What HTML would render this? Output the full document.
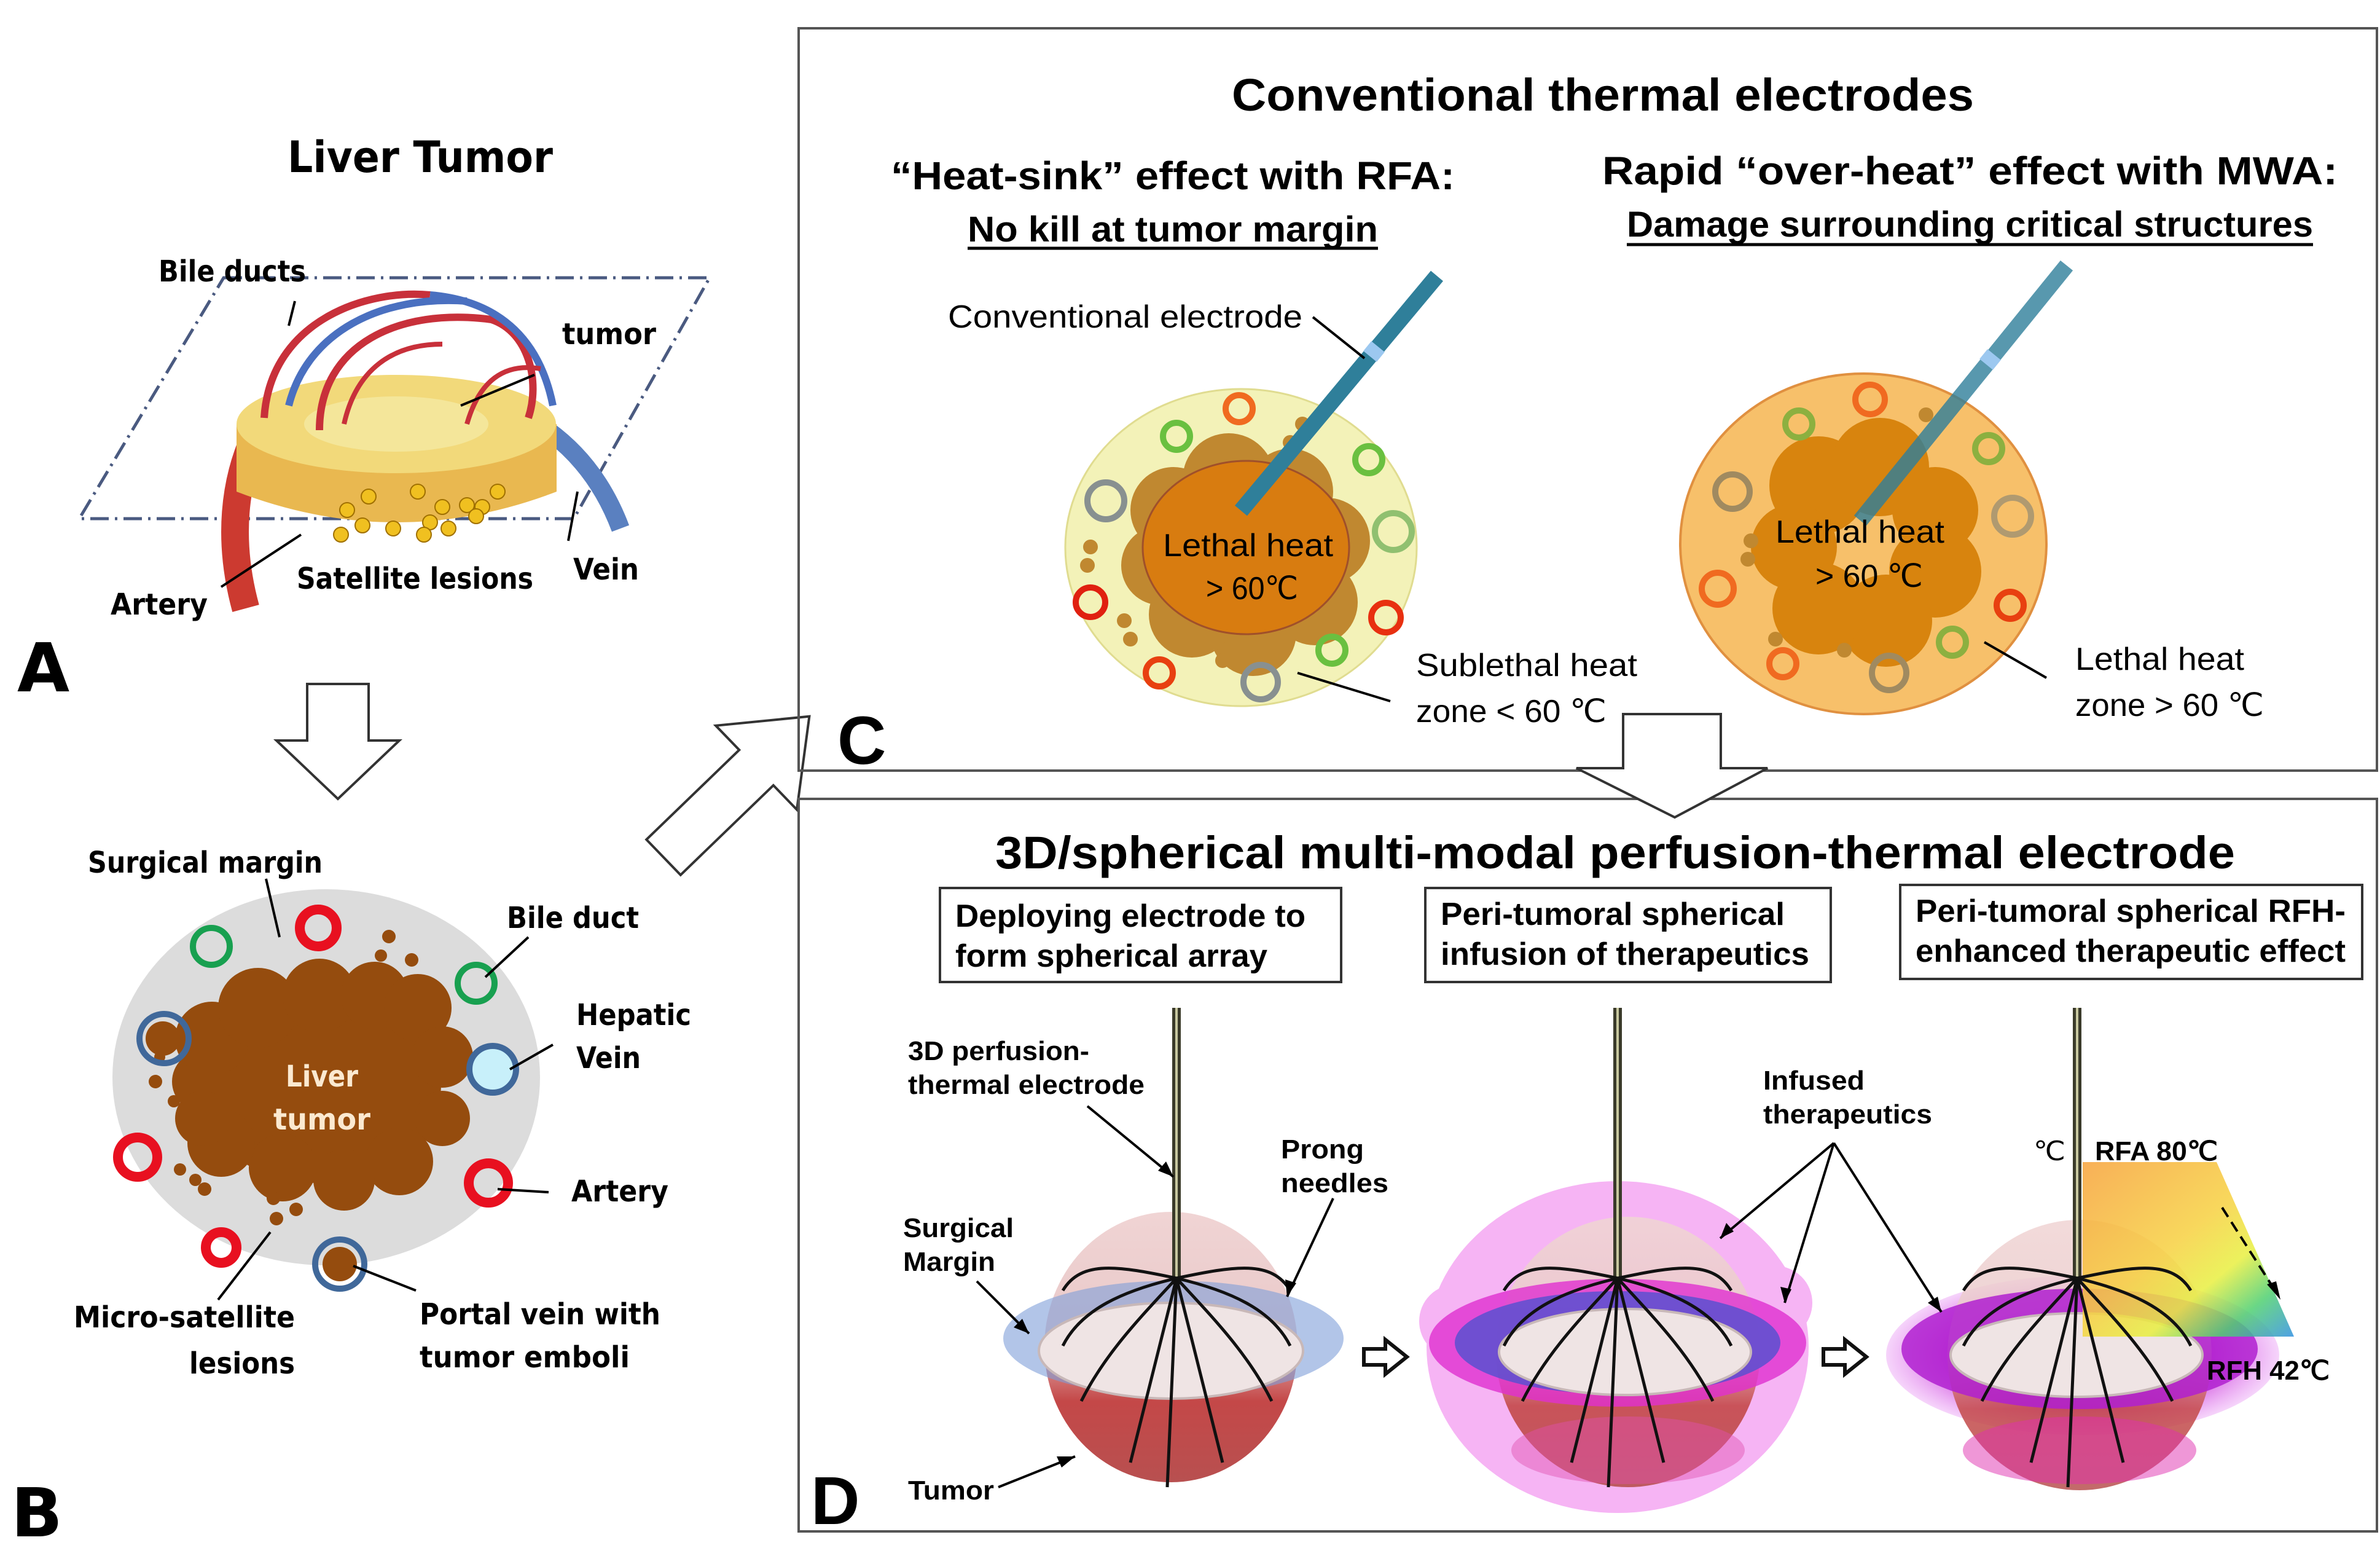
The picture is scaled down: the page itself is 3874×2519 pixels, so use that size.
<!DOCTYPE html>
<html><head><meta charset="utf-8"><style>html,body{margin:0;padding:0;background:#fff}svg{display:block}</style></head>
<body>
<svg width="3874" height="2519" viewBox="0 0 3874 2519" xmlns="http://www.w3.org/2000/svg">
<defs>
<linearGradient id="sphv" x1="0" y1="0" x2="0" y2="1"><stop offset="0" stop-color="#f0d4d4"/><stop offset="0.45" stop-color="#e9c9c9"/><stop offset="0.7" stop-color="#c44848"/><stop offset="1" stop-color="#b85050"/></linearGradient>
<linearGradient id="rain" x1="0" y1="0" x2="1" y2="1"><stop offset="0" stop-color="#f7a23a"/><stop offset="0.45" stop-color="#f7d040"/><stop offset="0.65" stop-color="#e8ef40"/><stop offset="0.82" stop-color="#50d070"/><stop offset="1" stop-color="#3090e0"/></linearGradient>
<radialGradient id="glow" cx="50%" cy="50%" r="50%"><stop offset="0.6" stop-color="#c020d0" stop-opacity="0.9"/><stop offset="1" stop-color="#e070f0" stop-opacity="0.3"/></radialGradient>
</defs>
<rect width="3874" height="2519" fill="#fff"/>

<!-- ===== Panel A ===== -->
<text x="684" y="280" text-anchor="middle" font-family="DejaVu Sans" font-weight="bold" font-size="70" textLength="432" lengthAdjust="spacingAndGlyphs">Liver Tumor</text>
<polygon points="364,452 1155,452 934,844 129,844" fill="none" stroke="#4a5a80" stroke-width="5" stroke-dasharray="30,10,4,10"/>
<path d="M420,700 C380,780 370,880 400,990" stroke="#cc3a30" stroke-width="45" fill="none"/>
<path d="M860,680 C930,720 980,780 1010,860" stroke="#5a80c0" stroke-width="30" fill="none"/>
<path d="M385,690 L385,800 Q645,900 906,800 L906,690 Z" fill="#e9b850"/>
<ellipse cx="645" cy="690" rx="260" ry="80" fill="#f2d97a"/>
<ellipse cx="645" cy="690" rx="150" ry="45" fill="#f4e69a"/>
<g fill="none" stroke-width="12">
<path d="M430,680 C440,520 600,470 700,480" stroke="#c8303a"/>
<path d="M520,700 C520,560 650,500 800,520 C860,540 880,620 860,680" stroke="#c8303a"/>
<path d="M470,660 C500,540 620,480 760,490" stroke="#4a70c0"/>
<path d="M700,480 C820,490 880,560 900,660" stroke="#4a70c0"/>
<path d="M560,690 C580,600 640,560 720,560" stroke="#c8303a" stroke-width="8"/>
<path d="M760,690 C780,620 820,590 880,600" stroke="#c8303a" stroke-width="8"/>
</g>
<g fill="#f0c020" stroke="#a07000" stroke-width="2">
<circle cx="600" cy="808" r="12"/><circle cx="680" cy="800" r="12"/><circle cx="810" cy="800" r="12"/><circle cx="565" cy="830" r="12"/><circle cx="720" cy="825" r="12"/><circle cx="760" cy="822" r="12"/><circle cx="785" cy="825" r="12"/><circle cx="775" cy="840" r="12"/><circle cx="590" cy="855" r="12"/><circle cx="640" cy="860" r="12"/><circle cx="700" cy="850" r="12"/><circle cx="730" cy="860" r="12"/><circle cx="690" cy="870" r="12"/><circle cx="555" cy="870" r="12"/>
</g>
<g stroke="#000" stroke-width="4"><line x1="490" y1="870" x2="360" y2="955"/><line x1="940" y1="800" x2="925" y2="880"/><line x1="870" y1="610" x2="750" y2="660"/><line x1="480" y1="490" x2="470" y2="530"/></g>
<g font-family="DejaVu Sans" font-weight="bold" font-size="48">
<text x="258" y="458" textLength="240" lengthAdjust="spacingAndGlyphs">Bile ducts</text>
<text x="915" y="560" textLength="153" lengthAdjust="spacingAndGlyphs">tumor</text>
<text x="483" y="958" textLength="385" lengthAdjust="spacingAndGlyphs">Satellite lesions</text>
<text x="933" y="943" textLength="107" lengthAdjust="spacingAndGlyphs">Vein</text>
<text x="180" y="1000" textLength="158" lengthAdjust="spacingAndGlyphs">Artery</text>
</g>
<text x="28" y="1125" font-family="DejaVu Sans" font-weight="bold" font-size="110">A</text>
<polygon points="500,1113 600,1113 600,1205 650,1205 550,1300 450,1205 500,1205" fill="#fff" stroke="#333" stroke-width="4"/>

<!-- ===== Panel B ===== -->
<ellipse cx="531" cy="1753" rx="348" ry="306" fill="#dcdcdc"/>
<g fill="#954c0e">
<ellipse cx="518" cy="1765" rx="200" ry="160"/>
<circle cx="330" cy="1760" r="50"/><circle cx="345" cy="1690" r="60"/><circle cx="420" cy="1640" r="65"/><circle cx="520" cy="1620" r="60"/><circle cx="610" cy="1620" r="55"/><circle cx="680" cy="1640" r="55"/><circle cx="720" cy="1720" r="50"/><circle cx="720" cy="1820" r="45"/><circle cx="650" cy="1890" r="55"/><circle cx="560" cy="1920" r="50"/><circle cx="460" cy="1900" r="55"/><circle cx="360" cy="1860" r="55"/><circle cx="330" cy="1820" r="45"/>
<circle cx="260" cy="1720" r="9"/><circle cx="253" cy="1760" r="11"/><circle cx="283" cy="1792" r="10"/><circle cx="293" cy="1903" r="10"/><circle cx="318" cy="1920" r="10"/><circle cx="333" cy="1935" r="11"/><circle cx="445" cy="1950" r="11"/><circle cx="482" cy="1968" r="11"/><circle cx="450" cy="1983" r="11"/><circle cx="633" cy="1524" r="11"/><circle cx="620" cy="1555" r="10"/><circle cx="670" cy="1562" r="11"/>
<circle cx="265" cy="1690" r="28"/><circle cx="553" cy="2057" r="28"/>
</g>
<g fill="none" stroke-width="16">
<circle cx="344" cy="1540" r="30" stroke="#18a050" stroke-width="10"/>
<circle cx="518" cy="1510" r="30" stroke="#e81020"/>
<circle cx="775" cy="1600" r="30" stroke="#18a050" stroke-width="10"/>
<circle cx="267" cy="1690" r="40" stroke="#40689a" stroke-width="10"/>
<circle cx="802" cy="1740" r="38" stroke="#40689a" stroke-width="10" fill="#c8f0fa"/>
<circle cx="224" cy="1883" r="32" stroke="#e81020"/>
<circle cx="795" cy="1925" r="32" stroke="#e81020"/>
<circle cx="360" cy="2030" r="25" stroke="#e81020"/>
<circle cx="553" cy="2057" r="40" stroke="#40689a" stroke-width="10"/>
</g>
<g stroke="#000" stroke-width="4">
<line x1="433" y1="1430" x2="455" y2="1525"/><line x1="860" y1="1525" x2="790" y2="1590"/><line x1="900" y1="1700" x2="830" y2="1740"/><line x1="893" y1="1940" x2="810" y2="1935"/><line x1="677" y1="2100" x2="575" y2="2060"/><line x1="355" y1="2115" x2="440" y2="2005"/>
</g>
<g font-family="DejaVu Sans" font-weight="bold" font-size="48">
<text x="143" y="1420" textLength="382" lengthAdjust="spacingAndGlyphs">Surgical margin</text>
<text x="825" y="1510" textLength="215" lengthAdjust="spacingAndGlyphs">Bile duct</text>
<text x="938" y="1668" textLength="187" lengthAdjust="spacingAndGlyphs">Hepatic</text>
<text x="938" y="1738" textLength="105" lengthAdjust="spacingAndGlyphs">Vein</text>
<text x="930" y="1955" textLength="158" lengthAdjust="spacingAndGlyphs">Artery</text>
<text x="683" y="2155" textLength="392" lengthAdjust="spacingAndGlyphs">Portal vein with</text>
<text x="683" y="2225" textLength="342" lengthAdjust="spacingAndGlyphs">tumor emboli</text>
<text x="120" y="2160" textLength="360" lengthAdjust="spacingAndGlyphs">Micro-satellite</text>
<text x="308" y="2235" textLength="172" lengthAdjust="spacingAndGlyphs">lesions</text>
<text x="524" y="1768" text-anchor="middle" fill="#fbe9d0" textLength="118" lengthAdjust="spacingAndGlyphs">Liver</text>
<text x="524" y="1838" text-anchor="middle" fill="#fbe9d0" textLength="158" lengthAdjust="spacingAndGlyphs">tumor</text>
</g>
<text x="18" y="2500" font-family="DejaVu Sans" font-weight="bold" font-size="110">B</text>

<g transform="translate(1080,1395) rotate(-44)">
<polygon points="0,-40 210,-40 210,-95 330,0 210,95 210,40 0,40" fill="#fff" stroke="#333" stroke-width="4"/>
</g>

<!-- ===== Panel C ===== -->
<rect x="1300" y="46" width="2569" height="1208" fill="none" stroke="#555" stroke-width="4"/>
<g font-family="Liberation Sans" font-weight="bold">
<text x="2005" y="180" font-size="74" textLength="1208" lengthAdjust="spacingAndGlyphs">Conventional thermal electrodes</text>
<text x="1450" y="308" font-size="64" textLength="918" lengthAdjust="spacingAndGlyphs">“Heat-sink” effect with RFA:</text>
<text x="1575" y="393" font-size="58" textLength="668" lengthAdjust="spacingAndGlyphs">No kill at tumor margin</text>
<text x="2608" y="300" font-size="64" textLength="1197" lengthAdjust="spacingAndGlyphs">Rapid “over-heat” effect with MWA:</text>
<text x="2648" y="385" font-size="58" textLength="1117" lengthAdjust="spacingAndGlyphs">Damage surrounding critical structures</text>
<text x="1543" y="533" font-size="52" font-weight="normal" textLength="577" lengthAdjust="spacingAndGlyphs">Conventional electrode</text>
<text x="2305" y="1100" font-size="52" font-weight="normal" textLength="360" lengthAdjust="spacingAndGlyphs">Sublethal heat</text>
<text x="2305" y="1175" font-size="52" font-weight="normal" textLength="310" lengthAdjust="spacingAndGlyphs">zone &lt; 60 ℃</text>
<text x="3378" y="1090" font-size="52" font-weight="normal" textLength="275" lengthAdjust="spacingAndGlyphs">Lethal heat</text>
<text x="3378" y="1165" font-size="52" font-weight="normal" textLength="307" lengthAdjust="spacingAndGlyphs">zone &gt; 60 ℃</text>
</g>
<line x1="1575" y1="404" x2="2243" y2="404" stroke="#000" stroke-width="5"/>
<line x1="2648" y1="398" x2="3765" y2="398" stroke="#000" stroke-width="5"/>
<ellipse cx="2020" cy="891" rx="286" ry="258" fill="#f3f2b8" stroke="#e0dc90" stroke-width="3"/>
<g fill="#c08830">
<circle cx="1910" cy="830" r="70"/><circle cx="2000" cy="780" r="75"/><circle cx="2100" cy="800" r="70"/><circle cx="2160" cy="880" r="70"/><circle cx="2140" cy="980" r="70"/><circle cx="2040" cy="1030" r="70"/><circle cx="1940" cy="1000" r="70"/><circle cx="1890" cy="920" r="65"/>
<circle cx="1775" cy="890" r="12"/><circle cx="1770" cy="920" r="12"/><circle cx="1830" cy="1010" r="12"/><circle cx="1840" cy="1040" r="12"/><circle cx="1990" cy="1075" r="12"/><circle cx="2120" cy="690" r="12"/><circle cx="2100" cy="720" r="12"/>
</g>
<ellipse cx="2028" cy="891" rx="168" ry="141" fill="#d87c10" stroke="#a0502a" stroke-width="3"/>
<g fill="none" stroke-width="10">
<circle cx="2017" cy="665" r="22" stroke="#f06a20"/>
<circle cx="1915" cy="710" r="22" stroke="#6ac040"/>
<circle cx="2228" cy="748" r="22" stroke="#6ac040"/>
<circle cx="1800" cy="815" r="30" stroke="#889090"/>
<circle cx="2268" cy="865" r="30" stroke="#90c070"/>
<circle cx="1775" cy="980" r="24" stroke="#e02010"/>
<circle cx="2256" cy="1005" r="24" stroke="#e83010"/>
<circle cx="2168" cy="1058" r="22" stroke="#6ac040"/>
<circle cx="1887" cy="1095" r="22" stroke="#e84010"/>
<circle cx="2052" cy="1110" r="28" stroke="#889090"/>
</g>
<ellipse cx="3033" cy="885" rx="298" ry="277" fill="#f7c06a" stroke="#e09040" stroke-width="4"/>
<g fill="#d8840e">
<circle cx="2960" cy="790" r="80"/><circle cx="3060" cy="760" r="80"/><circle cx="3150" cy="830" r="70"/><circle cx="3150" cy="930" r="75"/><circle cx="3070" cy="1010" r="75"/><circle cx="2960" cy="990" r="75"/><circle cx="2920" cy="890" r="70"/>
</g>
<g fill="#c08830"><circle cx="2850" cy="880" r="12"/><circle cx="2845" cy="910" r="12"/><circle cx="2890" cy="1040" r="12"/><circle cx="3002" cy="1058" r="12"/><circle cx="3135" cy="675" r="12"/></g>
<g fill="none" stroke-width="10">
<circle cx="3044" cy="650" r="24" stroke="#f06a20"/>
<circle cx="2928" cy="690" r="22" stroke="#8cb040"/>
<circle cx="3237" cy="730" r="22" stroke="#8cb040"/>
<circle cx="2820" cy="800" r="28" stroke="#a08a60"/>
<circle cx="3276" cy="840" r="30" stroke="#b09a70"/>
<circle cx="2796" cy="958" r="26" stroke="#f06a20"/>
<circle cx="3272" cy="985" r="22" stroke="#e84010"/>
<circle cx="3178" cy="1045" r="22" stroke="#8cb040"/>
<circle cx="2902" cy="1080" r="22" stroke="#f06a20"/>
<circle cx="3075" cy="1095" r="28" stroke="#a08a60"/>
</g>
<line x1="2339" y1="449" x2="2020" y2="831" stroke="#2f7f9a" stroke-width="26"/>
<line x1="3364" y1="432" x2="3028" y2="847" stroke="#2f7f9a" stroke-width="26" opacity="0.8"/>
<line x1="2243" y1="564" x2="2230" y2="580" stroke="#9cc8f0" stroke-width="28"/>
<line x1="3246" y1="577" x2="3233" y2="593" stroke="#9cc8f0" stroke-width="28"/>
<g font-family="Liberation Sans" font-size="52">
<text x="1893" y="905" textLength="277" lengthAdjust="spacingAndGlyphs">Lethal heat</text>
<text x="1963" y="975" textLength="150" lengthAdjust="spacingAndGlyphs">&gt; 60℃</text>
<text x="2890" y="883" textLength="275" lengthAdjust="spacingAndGlyphs">Lethal heat</text>
<text x="2955" y="955" textLength="175" lengthAdjust="spacingAndGlyphs">&gt; 60 ℃</text>
</g>
<g stroke="#000" stroke-width="4"><line x1="2137" y1="516" x2="2221" y2="583"/><line x1="2112" y1="1095" x2="2263" y2="1141"/><line x1="3230" y1="1045" x2="3331" y2="1103"/></g>
<text x="1363" y="1243" font-family="Liberation Sans" font-weight="bold" font-size="110">C</text>

<!-- ===== Panel D ===== -->
<rect x="1300" y="1300" width="2569" height="1192" fill="none" stroke="#555" stroke-width="4"/>
<polygon points="2642,1162 2801,1162 2801,1250 2877,1250 2726,1330 2566,1250 2642,1250" fill="#fff" stroke="#333" stroke-width="4"/>
<text x="1620" y="1413" font-family="Liberation Sans" font-weight="bold" font-size="74" textLength="2018" lengthAdjust="spacingAndGlyphs">3D/spherical multi-modal perfusion-thermal electrode</text>
<g fill="#fff" stroke="#333" stroke-width="4">
<rect x="1530" y="1445" width="653" height="153"/><rect x="2320" y="1445" width="660" height="153"/><rect x="3093" y="1440" width="752" height="153"/>
</g>
<g font-family="Liberation Sans" font-weight="bold" font-size="52">
<text x="1555" y="1508" textLength="570" lengthAdjust="spacingAndGlyphs">Deploying electrode to</text>
<text x="1555" y="1573" textLength="508" lengthAdjust="spacingAndGlyphs">form spherical array</text>
<text x="2345" y="1505" textLength="560" lengthAdjust="spacingAndGlyphs">Peri-tumoral spherical</text>
<text x="2345" y="1570" textLength="600" lengthAdjust="spacingAndGlyphs">infusion of therapeutics</text>
<text x="3118" y="1500" textLength="700" lengthAdjust="spacingAndGlyphs">Peri-tumoral spherical RFH-</text>
<text x="3118" y="1565" textLength="700" lengthAdjust="spacingAndGlyphs">enhanced therapeutic effect</text>
</g>
<!-- sphere 1 -->
<ellipse cx="1906" cy="2192" rx="206" ry="220" fill="url(#sphv)"/>
<ellipse cx="1910" cy="2178" rx="277" ry="94" fill="#7f9fd8" opacity="0.6"/>
<ellipse cx="1906" cy="2198" rx="215" ry="78" fill="#efe4e4" stroke="#c8b8b8" stroke-width="4"/>
<!-- sphere 2 -->
<g fill="#f6b4f4">
<ellipse cx="2633" cy="2192" rx="311" ry="270"/><circle cx="2370" cy="2150" r="60"/><circle cx="2890" cy="2120" r="60"/>
</g>
<ellipse cx="2650" cy="2200" rx="215" ry="220" fill="url(#sphv)" opacity="0.9"/>
<ellipse cx="2633" cy="2185" rx="307" ry="104" fill="#e030d0" opacity="0.8"/>
<ellipse cx="2633" cy="2185" rx="265" ry="84" fill="#5a50d0" opacity="0.85"/>
<ellipse cx="2645" cy="2200" rx="205" ry="70" fill="#efe4e4" stroke="#c8b8b8" stroke-width="4"/>
<ellipse cx="2650" cy="2360" rx="190" ry="55" fill="#e050b0" opacity="0.45"/>
<!-- sphere 3 -->
<ellipse cx="3390" cy="2205" rx="320" ry="130" fill="url(#glow)"/>
<ellipse cx="3385" cy="2205" rx="215" ry="220" fill="url(#sphv)" opacity="0.85"/>
<ellipse cx="3385" cy="2195" rx="290" ry="98" fill="#b020d0" opacity="0.85"/>
<ellipse cx="3380" cy="2205" rx="205" ry="68" fill="#efe4e4" stroke="#c8b8b8" stroke-width="4"/>
<ellipse cx="3385" cy="2360" rx="190" ry="55" fill="#e030b0" opacity="0.5"/>
<polygon points="3390,1891 3608,1891 3734,2175 3390,2175" fill="url(#rain)" opacity="0.85"/>
<line x1="3617" y1="1965" x2="3700" y2="2095" stroke="#000" stroke-width="4" stroke-dasharray="18,10"/>
<polygon points="3712,2115 3690,2090 3705,2085" fill="#000"/>
<g id="el">
<line x1="1915" y1="1640" x2="1915" y2="2090" stroke="#3a3a2a" stroke-width="14"/>
<line x1="1915" y1="1640" x2="1915" y2="2090" stroke="#c8c8a0" stroke-width="4"/>
<g fill="none" stroke="#111" stroke-width="5">
<path d="M1915,2080 C1830,2100 1760,2130 1730,2190"/><path d="M1915,2080 C1860,2140 1800,2200 1760,2280"/><path d="M1915,2080 C1890,2180 1860,2300 1840,2380"/><path d="M1915,2080 C1910,2200 1905,2320 1900,2420"/>
<path d="M1915,2080 C2000,2100 2070,2130 2100,2190"/><path d="M1915,2080 C1970,2140 2030,2200 2070,2280"/><path d="M1915,2080 C1940,2180 1970,2300 1990,2380"/>
<path d="M1915,2080 C1820,2060 1760,2050 1730,2100"/><path d="M1915,2080 C2010,2060 2070,2050 2100,2100"/>
</g>
</g>
<use href="#el" transform="translate(718,0)"/>
<use href="#el" transform="translate(1466,0)"/>
<g fill="#fff" stroke="#111" stroke-width="6">
<polygon points="2220,2195 2255,2195 2255,2180 2290,2208 2255,2236 2255,2221 2220,2221"/>
<polygon points="2968,2195 3003,2195 3003,2180 3038,2208 3003,2236 3003,2221 2968,2221"/>
</g>
<g stroke="#000" stroke-width="4" fill="none">
<line x1="1770" y1="1800" x2="1910" y2="1915"/><line x1="2170" y1="1950" x2="2095" y2="2110"/><line x1="1590" y1="2085" x2="1675" y2="2170"/><line x1="1625" y1="2420" x2="1750" y2="2370"/>
<line x1="2985" y1="1860" x2="2800" y2="2015"/><line x1="2985" y1="1860" x2="2905" y2="2120"/><line x1="2985" y1="1860" x2="3160" y2="2135"/>
</g>
<g fill="#000">
<polygon points="1910,1915 1885,1905 1898,1890"/><polygon points="2095,2110 2092,2082 2110,2088"/><polygon points="1675,2170 1650,2160 1664,2146"/><polygon points="1750,2370 1728,2388 1720,2370"/>
<polygon points="2800,2015 2810,1990 2822,2004"/><polygon points="2905,2120 2898,2094 2916,2098"/><polygon points="3160,2135 3138,2120 3154,2110"/>
</g>
<g font-family="Liberation Sans" font-weight="bold" font-size="44">
<text x="1478" y="1725" textLength="295" lengthAdjust="spacingAndGlyphs">3D perfusion-</text>
<text x="1478" y="1780" textLength="385" lengthAdjust="spacingAndGlyphs">thermal electrode</text>
<text x="2085" y="1885" textLength="135" lengthAdjust="spacingAndGlyphs">Prong</text>
<text x="2085" y="1940" textLength="175" lengthAdjust="spacingAndGlyphs">needles</text>
<text x="1470" y="2013" textLength="180" lengthAdjust="spacingAndGlyphs">Surgical</text>
<text x="1470" y="2068" textLength="150" lengthAdjust="spacingAndGlyphs">Margin</text>
<text x="1478" y="2440" textLength="140" lengthAdjust="spacingAndGlyphs">Tumor</text>
<text x="2870" y="1773" textLength="165" lengthAdjust="spacingAndGlyphs">Infused</text>
<text x="2870" y="1828" textLength="275" lengthAdjust="spacingAndGlyphs">therapeutics</text>
<text x="3310" y="1888" textLength="52" lengthAdjust="spacingAndGlyphs" font-weight="normal">℃</text>
<text x="3410" y="1888" textLength="200" lengthAdjust="spacingAndGlyphs">RFA 80℃</text>
<text x="3592" y="2245" textLength="200" lengthAdjust="spacingAndGlyphs">RFH 42℃</text>
</g>
<text x="1320" y="2480" font-family="Liberation Sans" font-weight="bold" font-size="110">D</text>
</svg>
</body></html>
